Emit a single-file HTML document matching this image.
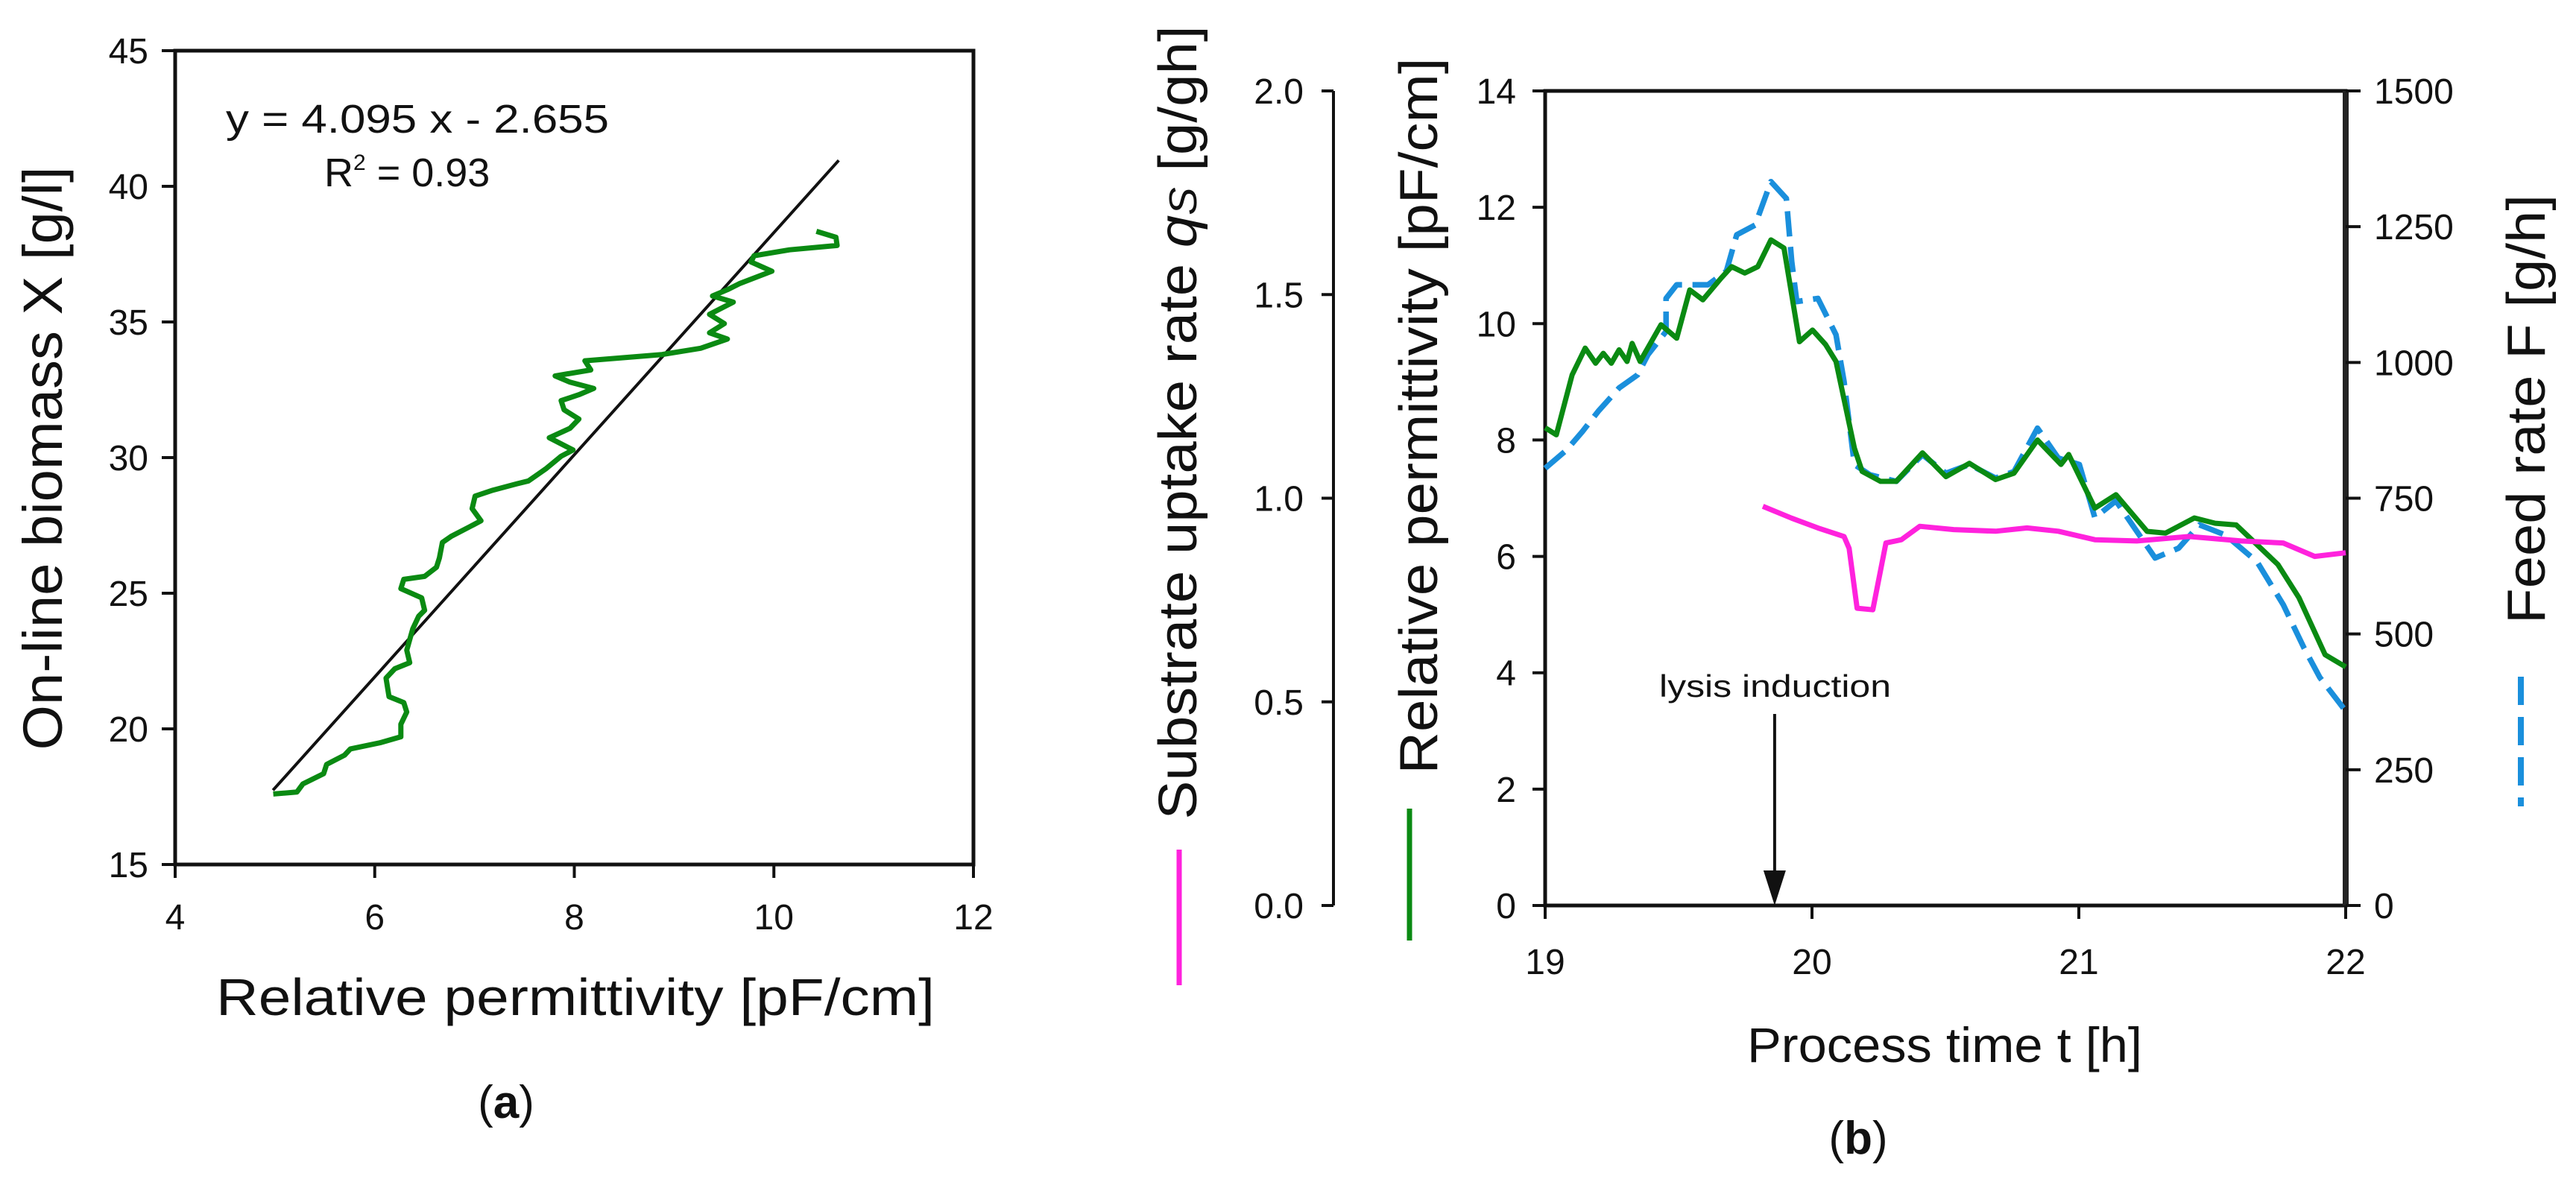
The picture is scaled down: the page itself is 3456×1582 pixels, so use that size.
<!DOCTYPE html>
<html><head><meta charset="utf-8"><title>Biomass and permittivity charts</title>
<style>
html,body{margin:0;padding:0;background:#fff;}
svg{display:block;}
text{font-family:"Liberation Sans",sans-serif;fill:#111;}
</style></head>
<body>
<svg id="fig" xmlns="http://www.w3.org/2000/svg" width="3456" height="1582" viewBox="0 0 3456 1582">
<rect x="0" y="0" width="3456" height="1582" fill="#fff"/>
<g id="pa"></g>
<g id="pb"></g>
</svg>
<script>
// ---------- Panel (a) data ----------
const aPerm = [4.983,5.220,5.280,5.488,5.518,5.697,5.756,6.054,6.262,6.262,6.321,6.291,6.143,6.113,6.202,6.351,6.321,6.381,6.440,6.500,6.470,6.262,6.291,6.500,6.619,6.648,6.678,6.767,6.946,7.065,6.976,7.006,7.184,7.422,7.541,7.719,7.868,7.987,7.749,7.957,8.046,7.898,7.868,8.046,8.195,7.957,7.808,8.165,8.106,8.879,9.266,9.534,9.355,9.504,9.355,9.593,9.385,9.534,9.653,9.980,9.772,9.801,10.158,10.634,10.622,10.426];
const aBiomass = [17.60,17.67,17.97,18.35,18.69,19.03,19.26,19.49,19.71,20.17,20.62,20.97,21.19,21.87,22.22,22.44,22.90,23.69,24.15,24.37,24.83,25.17,25.51,25.62,25.96,26.30,26.87,27.10,27.44,27.67,28.12,28.58,28.80,29.03,29.14,29.60,30.05,30.28,30.73,31.08,31.42,31.76,32.10,32.32,32.55,32.78,33.01,33.23,33.57,33.80,34.03,34.37,34.60,34.94,35.28,35.73,35.96,36.19,36.41,36.87,37.21,37.44,37.66,37.82,38.12,38.34];
const aXTicks = [4,6,8,10,12];
const aYTicks = [15,20,25,30,35,40,45];
const aFitSlope = 4.095;
const aFitIntercept = -2.655;
const aFitRange = [4.98, 10.65];

// ---------- Panel (b) data ----------
const bGreenT = [19.0,19.042,19.101,19.150,19.189,19.218,19.248,19.277,19.307,19.326,19.356,19.434,19.493,19.542,19.591,19.659,19.699,19.748,19.797,19.846,19.895,19.953,20.002,20.051,20.090,20.159,20.188,20.257,20.316,20.414,20.502,20.590,20.688,20.757,20.845,20.933,20.962,21.060,21.139,21.256,21.325,21.433,21.511,21.590,21.746,21.825,21.923,22.0];
const bGreenPerm = [8.21,8.09,9.12,9.58,9.32,9.49,9.32,9.55,9.35,9.66,9.35,9.98,9.75,10.58,10.41,10.78,10.98,10.87,10.98,11.44,11.30,9.69,9.89,9.64,9.35,7.86,7.46,7.29,7.29,7.78,7.37,7.60,7.32,7.43,8.00,7.58,7.75,6.83,7.06,6.43,6.40,6.66,6.57,6.54,5.86,5.29,4.31,4.10];
const bBlueT = [19.0,19.081,19.140,19.199,19.277,19.346,19.385,19.453,19.453,19.493,19.610,19.679,19.718,19.787,19.846,19.904,19.924,19.943,20.022,20.090,20.120,20.159,20.218,20.316,20.414,20.502,20.590,20.688,20.757,20.845,20.923,21.002,21.060,21.139,21.217,21.286,21.374,21.452,21.550,21.668,21.766,21.844,21.903,22.0];
const bBlueFeed = [805,839,873,910,953,977,1014,1057,1118,1143,1143,1168,1235,1253,1333,1302,1186,1112,1118,1051,965,812,793,781,830,796,812,787,799,879,824,812,714,745,689,640,658,701,682,633,554,474,420,358];
const bPinkT = [19.816,19.924,20.022,20.120,20.139,20.169,20.228,20.277,20.335,20.404,20.531,20.688,20.806,20.923,21.060,21.217,21.413,21.609,21.766,21.884,22.0];
const bPinkQ = [0.980,0.951,0.927,0.906,0.877,0.730,0.726,0.890,0.898,0.931,0.923,0.919,0.927,0.919,0.898,0.895,0.906,0.895,0.890,0.857,0.866];
const bXTicks = [19,20,21,22];
const bPermTicks = [0,2,4,6,8,10,12,14];
const bFeedTicks = [0,250,500,750,1000,1250,1500];
const bQTicks = [0.0,0.5,1.0,1.5,2.0];
const bLysisT = 19.86;

const NS = "http://www.w3.org/2000/svg";
function mk(parent, tag, attrs, txt){
  const e = document.createElementNS(NS, tag);
  for (const k in attrs) e.setAttribute(k, attrs[k]);
  if (txt !== undefined) e.textContent = txt;
  parent.appendChild(e);
  return e;
}
const pa = document.getElementById('pa');
const pb = document.getElementById('pb');
const TF = 48;

// ===== Panel A =====
const axL=235, axR=1306, ayT=68, ayB=1160;
const ax = v => axL + (v-4)/(12-4)*(axR-axL);
const ay = v => ayB - (v-15)/(45-15)*(ayB-ayT);

let el;
el = mk(pa,'rect',{x:axL,y:ayT,width:axR-axL,height:ayB-ayT,fill:'none',stroke:'#111','stroke-width':5});



aXTicks.forEach(v=>{
  const t = mk(pa,'line',{x1:ax(v),x2:ax(v),y1:ayB,y2:ayB+18,stroke:'#111','stroke-width':4});
  
  
  const l = mk(pa,'text',{x:ax(v),y:ayB+87,'text-anchor':'middle','font-size':TF},String(v));
  
  
});
aYTicks.forEach(v=>{
  const t = mk(pa,'line',{x1:axL-18,x2:axL,y1:ay(v),y2:ay(v),stroke:'#111','stroke-width':4});
  
  
  const l = mk(pa,'text',{x:axL-36,y:ay(v)+17,'text-anchor':'end','font-size':TF},String(v));
  
  
});

el = mk(pa,'line',{x1:ax(aFitRange[0]),y1:ay(aFitSlope*aFitRange[0]+aFitIntercept),x2:ax(aFitRange[1]),y2:ay(aFitSlope*aFitRange[1]+aFitIntercept),stroke:'#111','stroke-width':4});



el = mk(pa,'polyline',{points:aPerm.map((v,i)=>ax(v).toFixed(1)+','+ay(aBiomass[i]).toFixed(1)).join(' '),fill:'none',stroke:'#0a8a12','stroke-width':7,'stroke-linejoin':'round'});



el = mk(pa,'text',{x:303,y:178,'font-size':54,textLength:514,lengthAdjust:'spacingAndGlyphs'},'y = 4.095 x - 2.655');


el = mk(pa,'text',{x:435,y:250,'font-size':54},'');


mk(el,'tspan',{},'R');
mk(el,'tspan',{'font-size':30,dy:-22},'2');
mk(el,'tspan',{dy:22},' = 0.93');

el = mk(pa,'text',{transform:'translate(83,615) rotate(-90)','text-anchor':'middle','font-size':74,textLength:783,lengthAdjust:'spacingAndGlyphs'},'On-line biomass X [g/l]');


el = mk(pa,'text',{x:772,y:1362,'text-anchor':'middle','font-size':70,textLength:964,lengthAdjust:'spacingAndGlyphs'},'Relative permittivity [pF/cm]');


el = mk(pa,'text',{x:679,y:1500,'text-anchor':'middle','font-size':62,'font-family':'Liberation Serif, serif'},'');


mk(el,'tspan',{},'(');
mk(el,'tspan',{'font-weight':'bold'},'a');
mk(el,'tspan',{},')');

// ===== Panel B =====
const bxL=2073, bxR=3147, byT=122, byB=1215;
const bx = t => bxL + (t-19)/(22-19)*(bxR-bxL);
const byP = v => byB - v/14*(byB-byT);
const byF = v => byB - v/1500*(byB-byT);
const byQ = v => byB - v/2*(byB-byT);

el = mk(pb,'rect',{x:bxL,y:byT,width:bxR-bxL,height:byB-byT,fill:'none',stroke:'#111','stroke-width':5});


el = mk(pb,'line',{x1:bxR,x2:bxR,y1:byT,y2:byB,stroke:'#222','stroke-width':8});



bXTicks.forEach(v=>{
  const t = mk(pb,'line',{x1:bx(v),x2:bx(v),y1:byB,y2:byB+18,stroke:'#111','stroke-width':4});
  
  
  const l = mk(pb,'text',{x:bx(v),y:byB+92,'text-anchor':'middle','font-size':TF},String(v));
  
  
});
bPermTicks.forEach(v=>{
  const t = mk(pb,'line',{x1:bxL-17,x2:bxL,y1:byP(v),y2:byP(v),stroke:'#111','stroke-width':4});
  
  
  const l = mk(pb,'text',{x:2034,y:byP(v)+17,'text-anchor':'end','font-size':TF},String(v));
  
  
});
bFeedTicks.forEach(v=>{
  const t = mk(pb,'line',{x1:bxR,x2:bxR+20,y1:byF(v),y2:byF(v),stroke:'#111','stroke-width':4});
  
  
  const l = mk(pb,'text',{x:3185,y:byF(v)+17,'text-anchor':'start','font-size':TF},String(v));
  
  
});
// q axis
const qAxX = 1789;
el = mk(pb,'line',{x1:qAxX,x2:qAxX,y1:byT,y2:byB,stroke:'#111','stroke-width':4});


bQTicks.forEach(v=>{
  const t = mk(pb,'line',{x1:qAxX-16,x2:qAxX,y1:byQ(v),y2:byQ(v),stroke:'#111','stroke-width':4});
  
  
  const l = mk(pb,'text',{x:1749,y:byQ(v)+17,'text-anchor':'end','font-size':TF},v.toFixed(1));
  
  
});

// series
el = mk(pb,'polyline',{points:bBlueT.map((t,i)=>bx(t).toFixed(1)+','+byF(bBlueFeed[i]).toFixed(1)).join(' '),fill:'none',stroke:'#1a8fdc','stroke-width':7.5,'stroke-dasharray':'34 14','stroke-linejoin':'round'});


el = mk(pb,'polyline',{points:bGreenT.map((t,i)=>bx(t).toFixed(1)+','+byP(bGreenPerm[i]).toFixed(1)).join(' '),fill:'none',stroke:'#0a8a12','stroke-width':7,'stroke-linejoin':'round'});


el = mk(pb,'polyline',{points:bPinkT.map((t,i)=>bx(t).toFixed(1)+','+byQ(bPinkQ[i]).toFixed(1)).join(' '),fill:'none',stroke:'#ff22dd','stroke-width':7,'stroke-linejoin':'round'});



// lysis annotation
el = mk(pb,'text',{x:2226,y:935,'font-size':42,textLength:311,lengthAdjust:'spacingAndGlyphs'},'lysis induction');


el = mk(pb,'line',{x1:bx(bLysisT),x2:bx(bLysisT),y1:958,y2:1175,stroke:'#111','stroke-width':4});


el = mk(pb,'polygon',{points:`${bx(bLysisT)-15},1168 ${bx(bLysisT)+15},1168 ${bx(bLysisT)},1215`,fill:'#111'});



// titles
el = mk(pb,'text',{transform:'translate(1605,567) rotate(-90)','text-anchor':'middle','font-size':72,textLength:1065,lengthAdjust:'spacingAndGlyphs'},'');


mk(el,'tspan',{},'Substrate uptake rate ');
mk(el,'tspan',{'font-style':'italic'},'q');
mk(el,'tspan',{'font-style':'italic','font-size':52},'S');
mk(el,'tspan',{},' [g/gh]');
el = mk(pb,'line',{x1:1582,x2:1582,y1:1140,y2:1322,stroke:'#ff22dd','stroke-width':7});



el = mk(pb,'text',{transform:'translate(1928,558) rotate(-90)','text-anchor':'middle','font-size':72,textLength:961,lengthAdjust:'spacingAndGlyphs'},'Relative permittivity [pF/cm]');


el = mk(pb,'line',{x1:1891,x2:1891,y1:1085,y2:1262,stroke:'#0a8a12','stroke-width':7});



el = mk(pb,'text',{transform:'translate(3414,549) rotate(-90)','text-anchor':'middle','font-size':72,textLength:576,lengthAdjust:'spacingAndGlyphs'},'Feed rate F [g/h]');


el = mk(pb,'line',{x1:3382,x2:3382,y1:908,y2:1082,stroke:'#1a8fdc','stroke-width':8,'stroke-dasharray':'38 16'});



el = mk(pb,'text',{x:2609,y:1425,'text-anchor':'middle','font-size':66,textLength:530,lengthAdjust:'spacingAndGlyphs'},'Process time t [h]');


el = mk(pb,'text',{x:2493,y:1548,'text-anchor':'middle','font-size':62,'font-family':'Liberation Serif, serif'},'');


mk(el,'tspan',{},'(');
mk(el,'tspan',{'font-weight':'bold'},'b');
mk(el,'tspan',{},')');
</script>
</body></html>
